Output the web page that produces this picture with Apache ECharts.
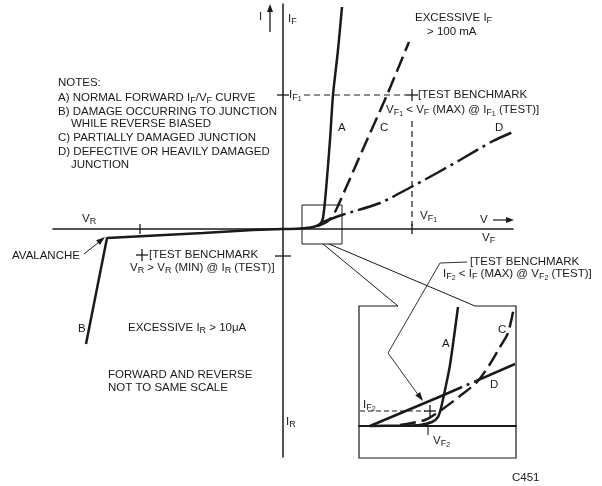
<!DOCTYPE html>
<html><head><meta charset="utf-8">
<script src="https://cdn.jsdelivr.net/npm/echarts@6/dist/echarts.min.js"></script>
<style>html,body{margin:0;padding:0;background:#fff}#c{width:602px;height:486px}</style>
</head><body><div id="c"></div>
<script>
// ---- curve data (schematic units, main view) ----
const reverseCurveB = [[0,0],[-3,-0.1],[-8,-0.4],[-17.6,-0.9],[-19.7,-11.5]];
const curveA = [[0,0],[1.7,0.05],[3.0,0.2],[3.7,0.5],[4.0,1.1],[4.3,3.9],[4.7,8.9],[5.0,13.4],[5.5,17.9],[5.9,22.2]];
const curveC = [[3.5,0.3],[4.5,0.8],[5.2,1.7],[6.2,3.9],[7.3,6.4],[8.4,8.9],[10.4,13.4],[12.6,18.7]];
const curveD = [[4.0,0.7],[5.9,1.4],[9.7,2.6],[13.0,4.3],[15.4,5.6],[17.7,6.9],[21.0,8.8],[23.0,9.7]];
// ---- curve data (magnified inset) ----
const insetA = [[1.1,0],[4.1,0.05],[6.1,0.1],[7.3,0.4],[7.9,0.9],[8.2,1.8],[8.6,3.6],[9.1,6.1],[9.9,11.9]];
const insetC = [[4.1,0.1],[6.6,0.6],[8.1,1.5],[10.1,3.0],[11.8,4.4],[13.1,6.2],[14.1,7.9],[14.9,9.3],[15.5,11.9]];
const insetD = [[1.1,0],[8.0,2.9],[15.6,6.2]];
// ---- text labels ----
const notesLines = ['NOTES:','A) NORMAL FORWARD I{s|F}/V{s|F} CURVE','B) DAMAGE OCCURRING TO JUNCTION','WHILE REVERSE BIASED','C) PARTIALLY DAMAGED JUNCTION','D) DEFECTIVE OR HEAVILY DAMAGED','JUNCTION'];
const curveLabels = ['A','B','C','D'];

const FONT = 'Liberation Sans, Arial, Helvetica, sans-serif';
const INK = '#1a1a1a';
const chart = echarts.init(document.getElementById('c'), null, {renderer:'canvas'});

const rich = {
  n:{fontSize:11.5, fontFamily:FONT, fill:INK, lineHeight:15},
  s:{fontSize:9, fontFamily:FONT, fill:INK, lineHeight:9, verticalAlign:'bottom'},
  t:{fontSize:7, fontFamily:FONT, fill:INK, lineHeight:5, verticalAlign:'bottom'}
};
function wrap(str){
  const out=[]; let re=/\{[st]\|[^}]*\}/g, last=0, m;
  while((m=re.exec(str))){ if(m.index>last) out.push('{n|'+str.slice(last,m.index)+'}'); out.push(m[0]); last=re.lastIndex; }
  if(last<str.length) out.push('{n|'+str.slice(last)+'}');
  return out.join('');
}
function T(x,y,text){
  return {type:'text', silent:true, z:20, style:{x:x,y:y,text:wrap(text),rich:rich,verticalAlign:'middle',align:'left',fill:INK,font:'11.5px '+FONT}};
}
function L(x1,y1,x2,y2,w,dash){
  return {type:'line', silent:true, z:15, shape:{x1:x1,y1:y1,x2:x2,y2:y2}, style:{stroke:INK,lineWidth:w||1,lineDash:dash||null}};
}
function P(points,w){
  return {type:'polyline', silent:true, z:15, shape:{points:points}, style:{stroke:INK,lineWidth:w||1,fill:null}};
}
function plus(x,y){ return [L(x-6,y,x+6,y,1.3), L(x,y-6,x,y+6,1.3)]; }
function head(x1,y1,x2,y2,len,wid){
  const a=Math.atan2(y2-y1,x2-x1), c=Math.cos(a), s=Math.sin(a);
  const bx=x2-len*c, by=y2-len*s;
  return {type:'polygon', silent:true, z:16, shape:{points:[[x2,y2],[bx-wid*s,by+wid*c],[bx+wid*s,by-wid*c]]}, style:{fill:INK}};
}

const g = [];
const noteY=[83,98,112,124,138,152,165], noteX=[58,58,58,71,58,58,71];
notesLines.forEach((t,i)=>g.push(T(noteX[i],noteY[i],t)));
g.push(T(259,17,'I'));
g.push(L(270,32,270,10,1.3)); g.push(head(270,32,270,4,8,3));
g.push(T(288,19,'I{s|F}'));
g.push(T(415,18,'EXCESSIVE I{s|F}'));
g.push(T(427,32,'> 100 mA'));
g.push(L(277,95,289,95,1.3));
g.push(T(289,95,'I{s|F}{t|1}'));
g.push(L(304,95,406,95,1.2,[6,4]));
g.push(...plus(412,95));
g.push(T(418,95,'[TEST BENCHMARK'));
g.push(T(386,110,'V{s|F}{t|1} < V{s|F} (MAX) @ I{s|F}{t|1} (TEST)]'));
g.push(L(412,121,412,226,1.2,[6,4]));
g.push(L(412,224,412,234,1.3));
g.push(T(420,216,'V{s|F}{t|1}'));
g.push(T(338,128,curveLabels[0]));
g.push(T(380,128,curveLabels[2]));
g.push(T(495,128,curveLabels[3]));
g.push(T(78,329,curveLabels[1]));
g.push(T(480,220,'V'));
g.push(L(493,220,508,220,1.2)); g.push(head(493,220,514,220,8,3));
g.push(T(482,238,'V{s|F}'));
g.push(T(82,219,'V{s|R}'));
g.push(L(140,224,140,234,1.3));
g.push(T(12,256,'AVALANCHE'));
g.push(L(84,254,99,242,1)); g.push(head(84,254,105,237,9,3));
g.push(...plus(142,255));
g.push(T(149,255,'[TEST BENCHMARK'));
g.push(T(130,268,'V{s|R} > V{s|R} (MIN) @ I{s|R} (TEST)]'));
g.push(L(275,256,291,256,1.3));
g.push(T(128,328,'EXCESSIVE I{s|R} > 10\u03bcA'));
g.push(T(108,375,'FORWARD AND REVERSE'));
g.push(T(108,388,'NOT TO SAME SCALE'));
g.push(T(286,422,'I{s|R}'));
g.push({type:'rect', silent:true, z:15, shape:{x:302,y:205,width:40,height:39}, style:{stroke:INK,lineWidth:1,fill:null}});
g.push(L(323,244,398,306,1));
g.push(L(329,244,475,306,1));
g.push(P([[398,306],[359,306],[359,458],[516,458],[516,306],[475,306]],1.2));
g.push(T(470,262,'[TEST BENCHMARK'));
g.push(T(443,274,'I{s|F}{t|2} < I{s|F} (MAX) @ V{s|F}{t|2} (TEST)]'));
g.push(P([[467,262],[440,263],[388,353],[419,396]],0.9));
g.push(head(388,353,423,401,9,3));
g.push(L(360,411,425,411,1.1,[5,3]));
g.push(...plus(430,411));
g.push(T(363,405,'I{s|F}{t|2}'));
g.push(L(428,427,428,435,1.1));
g.push(T(433,441,'V{s|F}{t|2}'));
g.push(T(442,344,curveLabels[0]));
g.push(T(498,330,curveLabels[2]));
g.push(T(490,385,curveLabels[3]));
g.push(T(512,478,'C451'));

const lineBase = {type:'line', symbol:'none', clip:false, silent:true, animation:false};
const axisLineStyle = {color:INK, width:1.5};
chart.setOption({
  animation:false,
  backgroundColor:'#fff',
  grid:[
    {left:53, top:4, width:460, height:453},
    {left:359, top:306, width:157, height:152}
  ],
  xAxis:[
    {type:'value', gridIndex:0, min:-23, max:23, axisLine:{show:true,onZero:true,lineStyle:axisLineStyle}, axisTick:{show:false}, axisLabel:{show:false}, splitLine:{show:false}},
    {type:'value', gridIndex:1, min:0, max:15.7, axisLine:{show:true,onZero:true,lineStyle:{color:INK,width:2}}, axisTick:{show:false}, axisLabel:{show:false}, splitLine:{show:false}}
  ],
  yAxis:[
    {type:'value', gridIndex:0, min:-22.8, max:22.5, axisLine:{show:true,onZero:true,lineStyle:axisLineStyle}, axisTick:{show:false}, axisLabel:{show:false}, splitLine:{show:false}},
    {type:'value', gridIndex:1, min:-3.2, max:12, axisLine:{show:false}, axisTick:{show:false}, axisLabel:{show:false}, splitLine:{show:false}}
  ],
  series:[
    Object.assign({}, lineBase, {name:'B', xAxisIndex:0, yAxisIndex:0, data:reverseCurveB, lineStyle:{color:INK,width:2.5}}),
    Object.assign({}, lineBase, {name:'A', xAxisIndex:0, yAxisIndex:0, data:curveA, smooth:0.25, lineStyle:{color:INK,width:2.5}}),
    Object.assign({}, lineBase, {name:'C', xAxisIndex:0, yAxisIndex:0, data:curveC, smooth:0.25, lineStyle:{color:INK,width:2.5,type:[16,6]}}),
    Object.assign({}, lineBase, {name:'D', xAxisIndex:0, yAxisIndex:0, data:curveD, smooth:0.25, lineStyle:{color:INK,width:2.5,type:[24,5,3,5]}}),
    Object.assign({}, lineBase, {name:'A inset', xAxisIndex:1, yAxisIndex:1, data:insetA, smooth:0.25, lineStyle:{color:INK,width:2.5}}),
    Object.assign({}, lineBase, {name:'C inset', xAxisIndex:1, yAxisIndex:1, data:insetC, smooth:0.25, lineStyle:{color:INK,width:2.5,type:[16,6]}}),
    Object.assign({}, lineBase, {name:'D inset', xAxisIndex:1, yAxisIndex:1, data:insetD, lineStyle:{color:INK,width:2.5,type:[100,5,3,5]}})
  ],
  graphic:{elements:g}
});
</script>
</body></html>
